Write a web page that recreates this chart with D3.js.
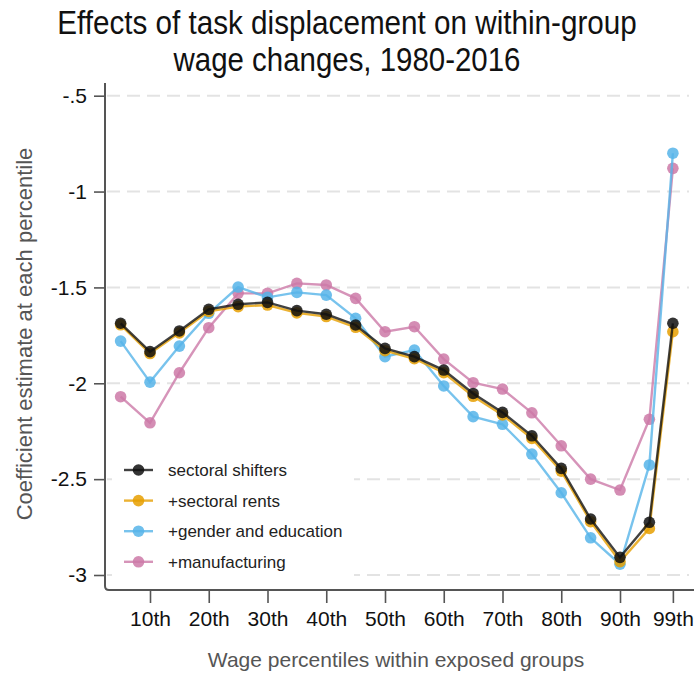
<!DOCTYPE html>
<html>
<head>
<meta charset="utf-8">
<script src="https://cdn.jsdelivr.net/npm/d3@7"></script>
<style>
  html, body { margin: 0; padding: 0; background: #fff; }
  svg { display: block; }
  text { font-family: "Liberation Sans Narrow", "Arial Narrow", "Liberation Sans", Arial, sans-serif; }
</style>
</head>
<body>
<svg id="chart" width="694" height="679"></svg>
<script>
// Wage percentiles at which the coefficient is estimated
const percentiles = [5, 10, 15, 20, 25, 30, 35, 40, 45, 50, 55, 60, 65, 70, 75, 80, 85, 90, 95, 99];

// Coefficient estimates, one array per specification
const sectoralShifters = [-1.687, -1.835, -1.727, -1.614, -1.588, -1.578, -1.621, -1.640, -1.696, -1.818,
                          -1.861, -1.931, -2.053, -2.152, -2.274, -2.444, -2.708, -2.908, -2.725, -1.687];
const sectoralRents    = [-1.695, -1.845, -1.737, -1.625, -1.600, -1.592, -1.633, -1.652, -1.708, -1.830,
                          -1.872, -1.945, -2.068, -2.165, -2.288, -2.458, -2.722, -2.930, -2.757, -1.731];
const genderEducation  = [-1.780, -1.994, -1.806, -1.635, -1.498, -1.552, -1.526, -1.540, -1.661, -1.861,
                          -1.827, -2.014, -2.174, -2.214, -2.369, -2.571, -2.806, -2.944, -2.426, -0.800];
const manufacturing    = [-2.070, -2.206, -1.945, -1.710, -1.531, -1.531, -1.479, -1.487, -1.557, -1.731,
                          -1.705, -1.874, -1.997, -2.030, -2.154, -2.326, -2.500, -2.557, -2.188, -0.879];

const seriesNames  = ["sectoral shifters", "+sectoral rents", "+gender and education", "+manufacturing"];
const seriesColors = ["#111111", "#E69F00", "#56B4E9", "#CC79A7"];
const seriesValues = [sectoralShifters, sectoralRents, genderEducation, manufacturing];

// Axis ticks
const yTicks = [-0.5, -1, -1.5, -2, -2.5, -3];
const yTickLabels = ["-.5", "-1", "-1.5", "-2", "-2.5", "-3"];
const xTicks = [10, 20, 30, 40, 50, 60, 70, 80, 90, 99];
const xTickLabels = ["10th", "20th", "30th", "40th", "50th", "60th", "70th", "80th", "90th", "99th"];

const titleLines = ["Effects of task displacement on within-group", "wage changes, 1980-2016"];
const xTitle = "Wage percentiles within exposed groups";
const yTitle = "Coefficient estimate at each percentile";

const svg = d3.select("#chart");

const plotLeft = 105, plotBottom = 590, plotTop = 83, plotRight = 694;

const x = d3.scaleLinear().domain([0, 100]).range([91.25, 678.75]);
const y = d3.scaleLinear().domain([-3, -0.5]).range([575, 95.7]);

// Squeeze a text element horizontally to a target width (condensed look)
function condense(sel, width) {
  sel.each(function () {
    const natural = this.getComputedTextLength();
    const k = Math.min(1, width / natural);
    const t = d3.select(this);
    const cx = +t.attr("x") || 0;
    t.attr("transform", `translate(${cx},0) scale(${k},1) translate(${-cx},0)`);
  });
}

// Title
const titleWidths = [580, 347];
svg.append("g")
  .selectAll("text")
  .data(titleLines)
  .join("text")
  .attr("x", 347)
  .attr("y", (d, i) => 34 + i * 37)
  .attr("text-anchor", "middle")
  .attr("font-size", 33)
  .attr("fill", "#111")
  .text(d => d)
  .each(function (d, i) { condense(d3.select(this), titleWidths[i]); });

// Dashed gridlines
svg.append("g")
  .selectAll("line")
  .data(yTicks)
  .join("line")
  .attr("x1", plotLeft + 2)
  .attr("x2", 689)
  .attr("y1", d => y(d))
  .attr("y2", d => y(d))
  .attr("stroke", "#e3e3e3")
  .attr("stroke-width", 2)
  .attr("stroke-dasharray", "13,7");

// Y axis
const yAxis = d3.axisLeft(y)
  .tickValues(yTicks)
  .tickFormat((d, i) => yTickLabels[i])
  .tickSize(11)
  .tickPadding(7);
const gy = svg.append("g").attr("transform", `translate(${plotLeft},0)`).call(yAxis);
gy.select(".domain").remove();
gy.selectAll(".tick line").attr("stroke", "#555").attr("stroke-width", 1.6);
gy.selectAll(".tick text")
  .attr("font-size", 21)
  .attr("fill", "#111")
  .style("font-family", "'Liberation Sans Narrow', 'Arial Narrow', 'Liberation Sans', sans-serif");

// X axis
const xAxis = d3.axisBottom(x)
  .tickValues(xTicks)
  .tickFormat((d, i) => xTickLabels[i])
  .tickSize(13)
  .tickPadding(8);
const gx = svg.append("g").attr("transform", `translate(0,${plotBottom})`).call(xAxis);
gx.select(".domain").remove();
gx.selectAll(".tick line").attr("stroke", "#555").attr("stroke-width", 1.6);
gx.selectAll(".tick text")
  .attr("font-size", 21)
  .attr("fill", "#111")
  .style("font-family", "'Liberation Sans Narrow', 'Arial Narrow', 'Liberation Sans', sans-serif");

// Axis frame with a rounded corner
svg.append("path")
  .attr("d", `M${plotLeft},${plotTop} L${plotLeft},${plotBottom - 4} Q${plotLeft},${plotBottom} ${plotLeft + 4},${plotBottom} L${plotRight},${plotBottom}`)
  .attr("fill", "none")
  .attr("stroke", "#555")
  .attr("stroke-width", 2);

// Axis titles
svg.append("text")
  .attr("x", 396)
  .attr("y", 667)
  .attr("text-anchor", "middle")
  .attr("font-size", 21)
  .attr("fill", "#555")
  .text(xTitle);

svg.append("g")
  .attr("transform", "translate(32,334) rotate(-90)")
  .append("text")
  .attr("x", 0)
  .attr("y", 0)
  .attr("text-anchor", "middle")
  .attr("font-size", 22)
  .attr("fill", "#555")
  .text(yTitle);

// Legend background hides the gridlines behind it
const legendX = 112, legendY = 452;
svg.append("rect")
  .attr("x", legendX)
  .attr("y", legendY)
  .attr("width", 242)
  .attr("height", 134)
  .attr("fill", "#fff");

// Series: drawn so that the baseline specification sits on top
const lineGen = d3.line()
  .x((d, i) => x(percentiles[i]))
  .y(d => y(d));

const order = [3, 2, 1, 0];
const plot = svg.append("g");
order.forEach(k => {
  const g = plot.append("g");
  g.append("path")
    .datum(seriesValues[k])
    .attr("d", lineGen)
    .attr("fill", "none")
    .attr("stroke", seriesColors[k])
    .attr("stroke-width", 2.4)
    .attr("stroke-opacity", 0.8);
  g.selectAll("circle")
    .data(seriesValues[k])
    .join("circle")
    .attr("cx", (d, i) => x(percentiles[i]))
    .attr("cy", d => y(d))
    .attr("r", 5.8)
    .attr("fill", seriesColors[k])
    .attr("fill-opacity", 0.85);
});

// Legend entries
const legend = svg.append("g");
const rows = legend.selectAll("g")
  .data(seriesNames)
  .join("g")
  .attr("transform", (d, i) => `translate(0,${470 + i * 30.6})`);
rows.append("line")
  .attr("x1", 124).attr("x2", 153)
  .attr("y1", 0).attr("y2", 0)
  .attr("stroke", (d, i) => seriesColors[i])
  .attr("stroke-width", 2.4)
  .attr("stroke-opacity", 0.8);
rows.append("circle")
  .attr("cx", 138.5).attr("cy", 0).attr("r", 5.8)
  .attr("fill", (d, i) => seriesColors[i])
  .attr("fill-opacity", 0.85);
rows.append("text")
  .attr("x", 168)
  .attr("y", 6)
  .attr("font-size", 17)
  .attr("fill", "#222")
  .text(d => d);
</script>
</body>
</html>
